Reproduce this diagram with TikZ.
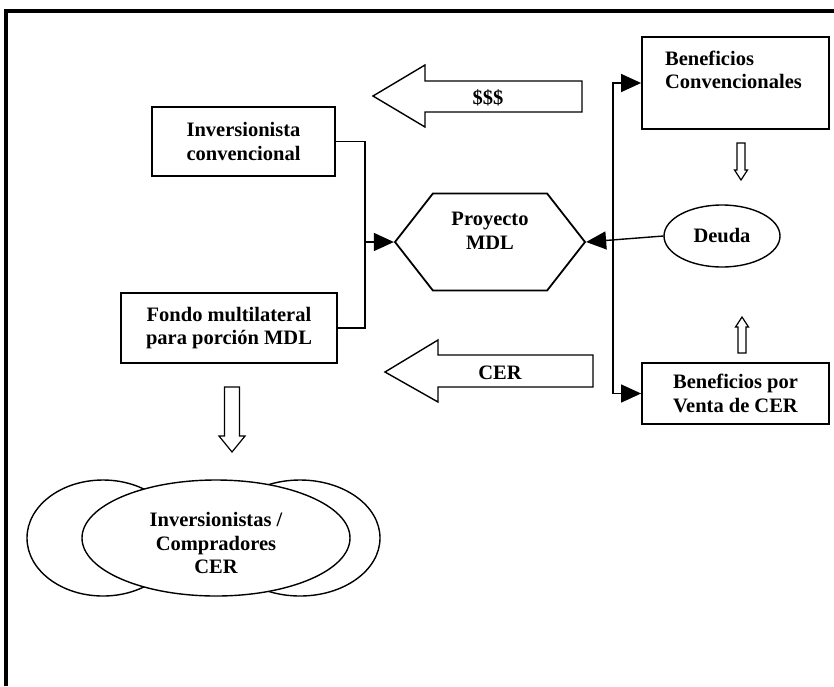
\documentclass[tikz,border=0pt]{standalone}
\usepackage{fontspec}
\setmainfont{Liberation Serif}
\usetikzlibrary{shapes.geometric, shapes.symbols, arrows.meta}

\begin{document}
\begin{tikzpicture}[x=1pt, y=-1pt, line width=1.4pt,
		font=\fontsize{20.5}{23.5}\selectfont\bfseries,
		>={Triangle[length=20pt, width=18pt]},
		caja/.style={rectangle, draw, line width=1.8pt, align=center},
		flecha/.style={draw, line width=1.4pt, fill=white, line join=miter}]
		\useasboundingbox (0,0) rectangle (834,686);
		% marco
		\draw[line width=3.5pt] (6,686) -- (6,11) -- (834,11);
		% cajas
		\node at (243.5,141.5) [caja, minimum width=183pt, minimum height=69pt] (inv) {Inversionista\\convencional};
		\node at (229,328) [caja, minimum width=216pt, minimum height=70pt] (fondo) {Fondo multilateral\\para porci\'on MDL};
		\node at (735.5,83) [caja, minimum width=187pt, minimum height=92pt,
			label={[align=left, xshift=-2pt, yshift=13pt]center:Beneficios\\Convencionales}] (bconv) {};
		\node at (735.5,393.5) [caja, minimum width=187pt, minimum height=61pt] (bventa) {Beneficios por\\Venta de CER};
		\node at (490,242) [signal, signal to=west and east, signal pointer angle=104, draw, line width=1.8pt,
			minimum width=190pt, minimum height=97pt, inner sep=0pt,
			label={[align=center, yshift=11pt]center:Proyecto\\MDL}] (proy) {};
		\node at (722,236) [ellipse, draw, minimum width=116pt, minimum height=62pt] (deuda) {Deuda};
		% conectores
		\coordinate (jl) at (365,242);
		\coordinate (jr) at (613,242);
		\draw (inv.east) -| (jl) |- (fondo.east);
		\draw[->] (jl) -- (proy.west);
		\draw[<->] (bconv.west) -| (jr) |- (bventa.west);
		\draw[->] (deuda.west) -- (proy.east);
		% flechas de bloque
		\path[flecha] (373,96) -- (425,65) -- (425,81) -- (582,81) -- (582,112) -- (425,112) -- (425,127) -- cycle;
		\node at (488,98) (dinero) {\$\$\$};
		\path[flecha] (385,372) -- (438,340) -- (438,355) -- (593,355) -- (593,387) -- (438,387) -- (438,402) -- cycle;
		\node at (500,373) (cer) {CER};
		\path[flecha, line width=1.2pt] (737,143) -- (745,143) -- (745,170) -- (747.5,170) -- (741,180) -- (734.5,170) -- (737,170) -- cycle;
		\path[flecha, line width=1.2pt] (738,353) -- (746,353) -- (746,327) -- (748.5,327) -- (742,317) -- (735.5,327) -- (738,327) -- cycle;
		\path[flecha, line width=1.2pt] (224.5,387) -- (239.5,387) -- (239.5,436) -- (245,436) -- (232,452) -- (219,436) -- (224.5,436) -- cycle;
		% inversionistas
		\node at (103,538) [ellipse, draw, minimum width=152pt, minimum height=116pt] (invi) {};
		\node at (300,538) [ellipse, draw, minimum width=160pt, minimum height=116pt] (invd) {};
		\node at (216,538) [ellipse, draw, fill=white, minimum width=268pt, minimum height=116pt] (comp) {};
		\begin{scope}
			\clip (80,480) rectangle (360,574);
			\node at (216,543) [align=center] (comptxt) {Inversionistas /\\Compradores\\CER};
		\end{scope}
\end{tikzpicture}
\end{document}
